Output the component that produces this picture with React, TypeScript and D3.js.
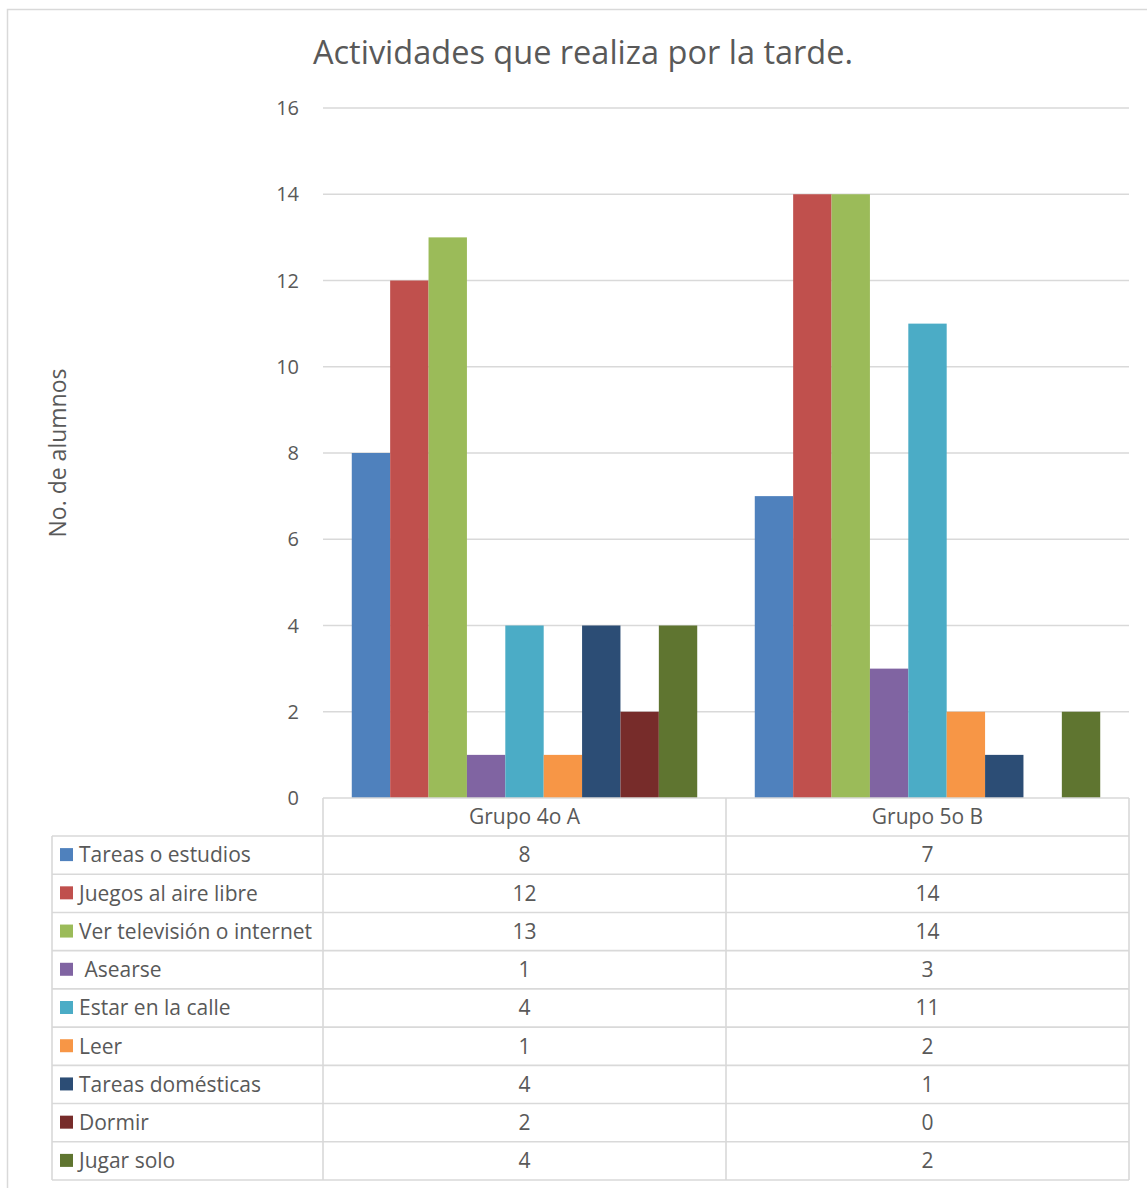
import React from "react";
import * as d3 from "d3";

const groups = ["Grupo 4o A", "Grupo 5o B"];
const seriesNames = [
  "Tareas o estudios",
  "Juegos al aire libre",
  "Ver televisión o internet",
  " Asearse",
  "Estar en la calle",
  "Leer",
  "Tareas domésticas",
  "Dormir",
  "Jugar solo",
];
const grupo4A = [8, 12, 13, 1, 4, 1, 4, 2, 4];
const grupo5B = [7, 14, 14, 3, 11, 2, 1, 0, 2];
const colors = [
  "#4F81BD",
  "#C0504D",
  "#9BBB59",
  "#8064A2",
  "#4BACC6",
  "#F79646",
  "#2C4D75",
  "#772C2A",
  "#5F7530",
];
const yTicks = [0, 2, 4, 6, 8, 10, 12, 14, 16];
const title = "Actividades que realiza por la tarde.";
const yTitle = "No. de alumnos";

const values = [grupo4A, grupo5B];

export default function App() {
  const W = 1147;
  const H = 1188;
  const font = "'Open Sans', 'Noto Sans', sans-serif";
  const textColor = "#595959";
  const gridColor = "#D9D9D9";

  const plotLeft = 323;
  const plotRight = 1129;
  const plotTop = 108;
  const plotBottom = 798;

  const y = d3.scaleLinear().domain([0, 16]).range([plotBottom, plotTop]);
  const x0 = d3
    .scaleBand<string>()
    .domain(groups)
    .range([plotLeft, plotRight])
    .paddingInner(0)
    .paddingOuter(0);
  const bw = x0.bandwidth();
  const gap = 0.0714 * bw;
  const x1 = d3
    .scaleBand<number>()
    .domain(d3.range(seriesNames.length))
    .range([gap, bw - gap]);

  const tableLeft = 52;
  const headerTop = plotBottom;
  const headerBottom = 836;
  const tableBottom = 1180;
  const rowH = (tableBottom - headerBottom) / seriesNames.length;
  const colBounds = [plotLeft, plotLeft + bw, plotRight];

  return (
    <svg
      width={W}
      height={H}
      style={{ position: "absolute", left: 0, top: 0, background: "#fff" }}
      fontFamily={font}
    >
      <rect x={0} y={0} width={W} height={H} fill="#fff" />
      <rect
        x={7.5}
        y={9.5}
        width={W + 20}
        height={H + 20}
        fill="none"
        stroke={gridColor}
        strokeWidth={1.5}
      />
      <text
        x={583}
        y={64}
        textAnchor="middle"
        fontSize={32.5}
        fill={textColor}
      >
        {title}
      </text>

      {yTicks.map((t) => (
        <g key={t}>
          {t > 0 && (
            <line
              x1={plotLeft}
              x2={plotRight}
              y1={y(t)}
              y2={y(t)}
              stroke={gridColor}
              strokeWidth={1.3}
            />
          )}
          <text
            x={299}
            y={y(t)}
            dy="0.35em"
            textAnchor="end"
            fontSize={20}
            fill={textColor}
          >
            {t}
          </text>
        </g>
      ))}

      <text
        transform={`translate(66,453) rotate(-90)`}
        textAnchor="middle"
        fontSize={23}
        fill={textColor}
      >
        {yTitle}
      </text>

      {groups.map((g, gi) => (
        <g key={g} transform={`translate(${x0(g)},0)`}>
          {values[gi].map((v, si) => (
            <rect
              key={si}
              x={x1(si)}
              y={y(v)}
              width={x1.bandwidth()}
              height={y(0) - y(v)}
              fill={colors[si]}
            />
          ))}
        </g>
      ))}

      {/* data table */}
      <g stroke={gridColor} strokeWidth={1.6} fill="none">
        <line x1={plotLeft} x2={plotRight} y1={headerTop} y2={headerTop} />
        {d3.range(seriesNames.length + 1).map((i) => (
          <line
            key={i}
            x1={tableLeft}
            x2={plotRight}
            y1={headerBottom + i * rowH}
            y2={headerBottom + i * rowH}
          />
        ))}
        <line x1={tableLeft} x2={tableLeft} y1={headerBottom} y2={tableBottom} />
        {colBounds.map((cx, i) => (
          <line key={i} x1={cx} x2={cx} y1={headerTop} y2={tableBottom} />
        ))}
      </g>
      {groups.map((g, gi) => (
        <text
          key={g}
          x={(x0(g) as number) + bw / 2}
          y={(headerTop + headerBottom) / 2}
          dy="0.35em"
          textAnchor="middle"
          fontSize={21}
          fill={textColor}
        >
          {g}
        </text>
      ))}
      {seriesNames.map((name, si) => {
        const cy = headerBottom + si * rowH + rowH / 2;
        return (
          <g key={si}>
            <rect x={60} y={cy - 7} width={13} height={13} fill={colors[si]} />
            <text
              x={79}
              y={cy}
              dy="0.35em"
              fontSize={21}
              fill={textColor}
              style={{ whiteSpace: "pre" }}
            >
              {name}
            </text>
            {groups.map((g, gi) => (
              <text
                key={g}
                x={(x0(g) as number) + bw / 2}
                y={cy}
                dy="0.35em"
                textAnchor="middle"
                fontSize={21}
                fill={textColor}
              >
                {values[gi][si]}
              </text>
            ))}
          </g>
        );
      })}
    </svg>
  );
}
